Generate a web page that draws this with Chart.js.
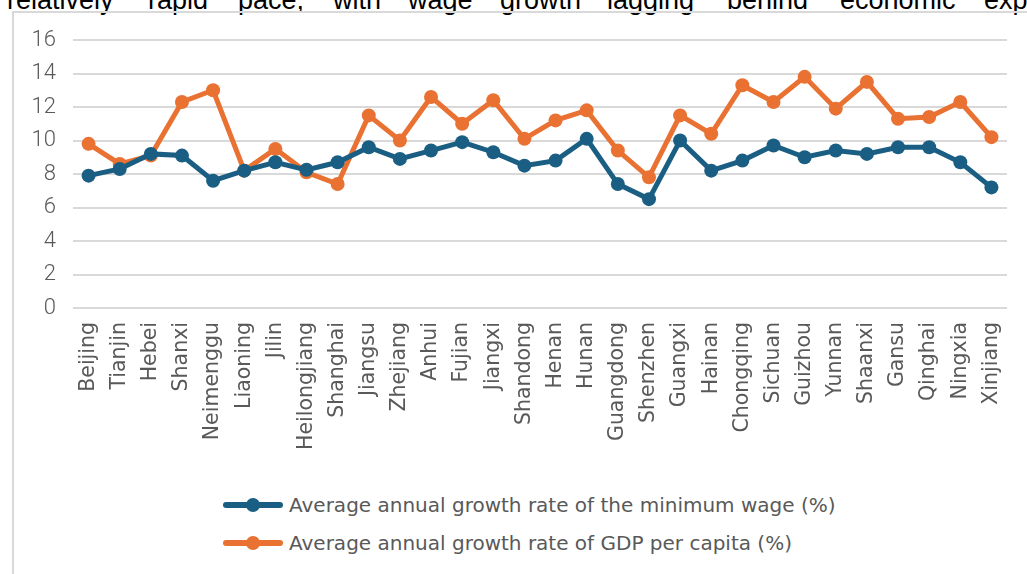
<!DOCTYPE html>
<html>
<head>
<meta charset="utf-8">
<script src="https://cdn.jsdelivr.net/npm/chart.js@4/dist/chart.umd.min.js"></script>
<style>
  body { margin: 0; background: #fff; width: 1027px; height: 574px; overflow: hidden; position: relative; }
  #lead span { position: absolute; top: -13px; font: 27px "Liberation Sans", Arial, sans-serif; color: #000;
               line-height: 27px; white-space: nowrap; }
  #frame { position: absolute; left: 12px; top: 11px; width: 1100px; height: 700px;
           border-left: 2px solid #d9d9d9; border-top: 2px solid #d9d9d9; }
  #wrap { position: absolute; left: 0; top: 0; width: 1027px; height: 470px; }
  #legend { position: absolute; left: 223px; top: 486px; font: 20px "DejaVu Sans", sans-serif; color: #595959; }
  .item { display: flex; align-items: center; height: 38px; }
  .sym { position: relative; width: 60px; height: 6px; border-radius: 3px; margin-right: 6px; }
  .sym::after { content: ""; position: absolute; left: 23px; top: -4px; width: 14px; height: 14px; border-radius: 50%; background: inherit; }
</style>
</head>
<body>
<div id="lead">
  <span style="left:7px">relatively</span><span style="left:148px">rapid</span><span style="left:238px">pace,</span>
  <span style="left:333px">with</span><span style="left:408px">wage</span><span style="left:500px">growth</span>
  <span style="left:607px">lagging</span><span style="left:727px">behind</span><span style="left:840px">economic</span>
  <span style="left:984px">expansion</span>
</div>
<div id="frame"></div>
<div id="wrap"><canvas id="chart"></canvas></div>
<div id="legend"></div>
<script>
const provinces = ["Beijing", "Tianjin", "Hebei", "Shanxi", "Neimenggu", "Liaoning", "Jilin", "Heilongjiang",
  "Shanghai", "Jiangsu", "Zhejiang", "Anhui", "Fujian", "Jiangxi", "Shandong", "Henan", "Hunan",
  "Guangdong", "Shenzhen", "Guangxi", "Hainan", "Chongqing", "Sichuan", "Guizhou", "Yunnan",
  "Shaanxi", "Gansu", "Qinghai", "Ningxia", "Xinjiang"];
const minWage = [7.9, 8.3, 9.2, 9.1, 7.6, 8.2, 8.7, 8.25, 8.7, 9.6, 8.9, 9.4, 9.9, 9.3, 8.5, 8.8, 10.1,
  7.4, 6.5, 10.0, 8.2, 8.8, 9.7, 9.0, 9.4, 9.2, 9.6, 9.6, 8.7, 7.2];
const gdpPerCapita = [9.8, 8.6, 9.1, 12.3, 13.0, 8.2, 9.5, 8.1, 7.4, 11.5, 10.0, 12.6, 11.0, 12.4, 10.1, 11.2, 11.8,
  9.4, 7.8, 11.5, 10.4, 13.3, 12.3, 13.8, 11.9, 13.5, 11.3, 11.4, 12.3, 10.2];
const yTicks = [0, 2, 4, 6, 8, 10, 12, 14, 16];
const seriesNames = ["Average annual growth rate of the minimum wage (%)", "Average annual growth rate of GDP per capita (%)"];
const blue = "#1a5f83";
const orange = "#e97132";

const chart = new Chart(document.getElementById('chart'), {
  type: 'line',
  data: {
    labels: provinces,
    datasets: [
      { label: seriesNames[0], data: minWage, borderColor: blue, backgroundColor: blue,
        borderWidth: 5, pointRadius: 7, pointHoverRadius: 7, pointBorderWidth: 0, tension: 0 },
      { label: seriesNames[1], data: gdpPerCapita, borderColor: orange, backgroundColor: orange,
        borderWidth: 5, pointRadius: 7, pointHoverRadius: 7, pointBorderWidth: 0, tension: 0 }
    ]
  },
  options: {
    responsive: true,
    maintainAspectRatio: false,
    animation: false,
    layout: { padding: { left: 12, right: 20, top: 40, bottom: 0 } },
    plugins: { legend: { display: false }, tooltip: { enabled: false } },
    scales: {
      x: {
        offset: true,
        grid: { display: false, drawTicks: false },
        border: { display: false },
        ticks: { minRotation: 90, maxRotation: 90, autoSkip: false, padding: 14, color: '#595959',
                 font: { family: 'DejaVu Sans', size: 20.5 } },
        afterFit: (s) => { s.height = 162; s.paddingRight = 0; }
      },
      y: {
        min: 0, max: 16,
        afterBuildTicks: (s) => { s.ticks = yTicks.map(v => ({ value: v })); },
        grid: { color: '#d9d9d9', lineWidth: 2, drawTicks: false },
        border: { display: false },
        ticks: { padding: 17, color: '#595959', font: { family: 'Roboto', size: 22, weight: 300 } },
        afterFit: (s) => { s.width = 61; }
      }
    }
  }
});

const legend = document.getElementById('legend');
chart.data.datasets.forEach(ds => {
  const row = document.createElement('div');
  row.className = 'item';
  const sym = document.createElement('span');
  sym.className = 'sym';
  sym.style.background = ds.borderColor;
  const txt = document.createElement('span');
  txt.textContent = ds.label;
  row.appendChild(sym);
  row.appendChild(txt);
  legend.appendChild(row);
});
</script>
</body>
</html>
